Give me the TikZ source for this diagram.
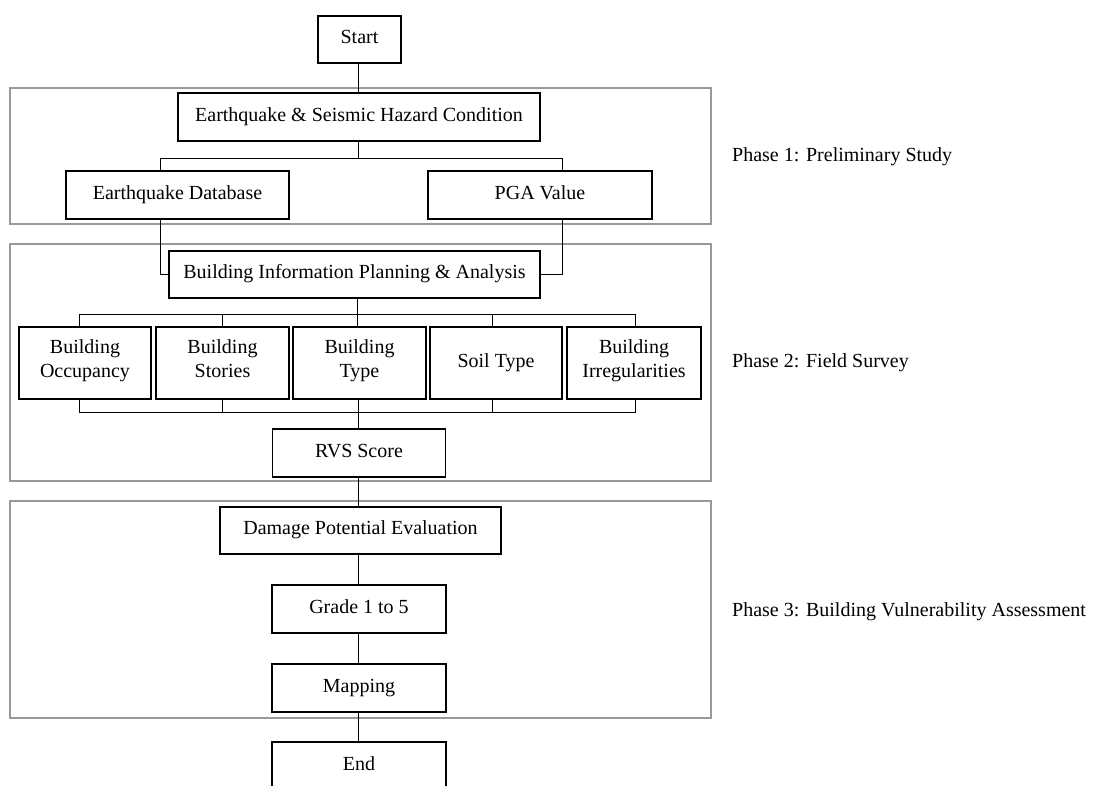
\documentclass[tikz,border=0pt]{standalone}
\usepackage{fontspec}
\setmainfont{Liberation Serif}
\newcommand{\bxstrut}{\rule[-8pt]{0pt}{24pt}}
\begin{document}
\begin{tikzpicture}[x=1pt,y=-1pt,
  box/.style={draw=black,line width=1.3pt,rectangle,inner sep=0pt,align=center,
    font=\fontsize{20}{24}\selectfont,
    execute at begin node=\bxstrut, execute at end node=\bxstrut},
  conn/.style={draw=black,line width=0.9pt},
  frame/.style={draw=black!40,line width=1.3pt},
  phaselabel/.style={anchor=west,inner sep=0pt,font=\fontsize{20}{24}\selectfont}]
\useasboundingbox (0,0) rectangle (1094,785);
\clip (0,0) rectangle (1094,785);
\fill[white] (0,0) rectangle (1094,785);
% phase frames
\draw[frame] (10,88) rectangle (711,224);
\draw[frame] (10,244) rectangle (711,481);
\draw[frame] (10,501) rectangle (711,718);
% boxes
\node[box,minimum width=83pt,minimum height=47pt] (start) at (359.5,39.5) {Start};
\node[box,minimum width=362pt,minimum height=48pt] (eq) at (359,117) {Earthquake \& Seismic Hazard Condition};
\node[box,minimum width=223pt,minimum height=48pt] (eqdb) at (177.5,195) {Earthquake Database};
\node[box,minimum width=224pt,minimum height=48pt] (pga) at (540,195) {PGA Value};
\node[box,minimum width=371pt,minimum height=47pt] (bipa) at (354.5,274.5) {Building Information Planning \& Analysis};
\node[box,minimum width=132pt,minimum height=72pt] (b1) at (85,363) {Building\\Occupancy};
\node[box,minimum width=133pt,minimum height=72pt] (b2) at (222.5,363) {Building\\Stories};
\node[box,minimum width=133pt,minimum height=72pt] (b3) at (359.5,363) {Building\\Type};
\node[box,minimum width=132pt,minimum height=72pt] (b4) at (496,363) {Soil Type};
\node[box,minimum width=134pt,minimum height=72pt] (b5) at (634,363) {Building\\Irregularities};
\node[box,minimum width=173pt,minimum height=48pt] (rvs) at (359,453) {RVS Score};
\node[box,minimum width=281pt,minimum height=47pt] (dpe) at (360.5,530.5) {Damage Potential Evaluation};
\node[box,minimum width=174pt,minimum height=48pt] (grade) at (359,609) {Grade 1 to 5};
\node[box,minimum width=174pt,minimum height=48pt] (map) at (359,688) {Mapping};
\node[box,minimum width=174pt,minimum height=48pt] (end) at (359,766) {End};
% phase labels
\node[phaselabel] (p1) at (732,157) {Phase 1: Preliminary Study};
\node[phaselabel] (p2) at (732,363) {Phase 2: Field Survey};
\node[phaselabel] (p3) at (732,612) {Phase 3: Building Vulnerability Assessment};
% junction coordinates
\coordinate (m) at (358.5,0);
\coordinate (jL) at (160,158);
\coordinate (jR) at (562,158);
\coordinate (ja) at (79,314);
\coordinate (jb) at (222.5,314);
\coordinate (jc) at (357,314);
\coordinate (jd) at (492,314);
\coordinate (je) at (635,314);
\coordinate (ka) at (79,412);
\coordinate (kb) at (222.5,412);
\coordinate (kd) at (492,412);
\coordinate (ke) at (635,412);
% connectors
\draw[conn] (m |- start.south) -- (m |- eq.north);
\draw[conn] (m |- eq.south) -- (m |- jL);
\draw[conn] (jL |- eqdb.north) -- (jL) -- (jR) -- (jR |- pga.north);
\draw[conn] (jL |- eqdb.south) -- (jL |- bipa.west) -- (bipa.west);
\draw[conn] (jR |- pga.south) -- (jR |- bipa.east) -- (bipa.east);
\draw[conn] (jc |- bipa.south) -- (jc |- b3.north);
\draw[conn] (ja |- b1.north) -- (ja) -- (je) -- (je |- b5.north);
\draw[conn] (jb) -- (jb |- b2.north);
\draw[conn] (jd) -- (jd |- b4.north);
\draw[conn] (ka |- b1.south) -- (ka) -- (ke) -- (ke |- b5.south);
\draw[conn] (kb |- b2.south) -- (kb);
\draw[conn] (kd |- b4.south) -- (kd);
\draw[conn] (m |- b3.south) -- (m |- rvs.north);
\draw[conn] (m |- rvs.south) -- (m |- dpe.north);
\draw[conn] (m |- dpe.south) -- (m |- grade.north);
\draw[conn] (m |- grade.south) -- (m |- map.north);
\draw[conn] (m |- map.south) -- (m |- end.north);
\end{tikzpicture}
\end{document}
